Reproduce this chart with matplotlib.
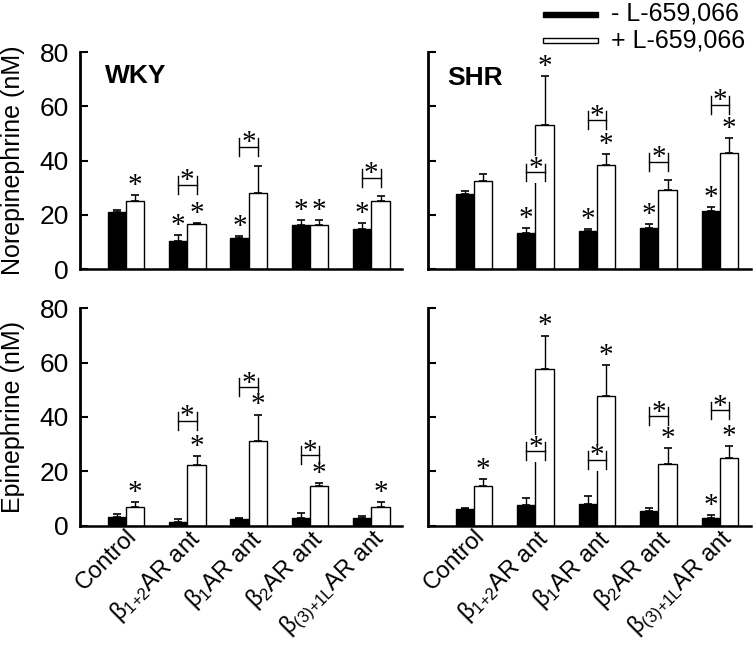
import matplotlib
matplotlib.use('Agg')
import matplotlib.pyplot as plt
from matplotlib.patches import Rectangle
import numpy as np

plt.rcParams['font.family'] = ['Liberation Sans', 'DejaVu Sans']
plt.rcParams['mathtext.fontset'] = 'custom'
plt.rcParams['mathtext.rm'] = 'Liberation Sans'
plt.rcParams['mathtext.it'] = 'Liberation Sans:italic'
plt.rcParams['mathtext.bf'] = 'Liberation Sans:bold'

# ── data ──────────────────────────────────────────────────────────────────
GROUPS = ['Control',
          r'$\mathrm{\beta_{1{+}2}}$AR ant',
          r'$\mathrm{\beta_{1}}$AR ant',
          r'$\mathrm{\beta_{2}}$AR ant',
          r'$\mathrm{\beta_{(3){+}1L}}$AR ant']

# Norepinephrine, WKY
ne_wky_minus = [21.0, 10.3, 11.6, 16.2, 14.9]
ne_wky_minus_err = [0.8, 2.2, 0.6, 1.9, 2.0]
ne_wky_plus = [25.2, 16.6, 28.2, 16.2, 25.1]
ne_wky_plus_err = [2.2, 0.5, 9.9, 1.9, 1.9]
ne_wky_minus_star = [False, True, True, True, True]
ne_wky_plus_star = [True, True, False, True, False]
ne_wky_bracket = [None, 31.0, 45.1, None, 33.7]

# Norepinephrine, SHR
ne_shr_minus = [27.7, 13.2, 13.9, 15.1, 21.3]
ne_shr_minus_err = [1.2, 1.8, 0.9, 1.4, 1.4]
ne_shr_plus = [32.6, 53.1, 38.5, 29.1, 42.8]
ne_shr_plus_err = [2.3, 18.0, 3.9, 3.7, 5.5]
ne_shr_minus_star = [False, True, True, True, True]
ne_shr_plus_star = [False, True, True, False, True]
ne_shr_bracket = [None, 35.6, 54.8, 39.6, 60.5]

# Epinephrine, WKY
ep_wky_minus = [3.2, 1.4, 2.3, 2.9, 2.6]
ep_wky_minus_err = [1.0, 1.1, 0.4, 1.6, 1.0]
ep_wky_plus = [6.9, 22.3, 31.0, 14.6, 6.9]
ep_wky_plus_err = [1.6, 3.4, 9.9, 1.2, 1.6]
ep_wky_minus_star = [False, False, False, False, False]
ep_wky_plus_star = [True, True, True, True, True]
ep_wky_bracket = [None, 38.6, 51.0, 25.9, None]

# Epinephrine, SHR
ep_shr_minus = [6.0, 7.4, 7.9, 5.3, 2.8]
ep_shr_minus_err = [0.6, 2.9, 3.1, 1.1, 1.0]
ep_shr_plus = [14.6, 57.8, 47.9, 22.6, 24.8]
ep_shr_plus_err = [2.4, 12.2, 11.1, 5.9, 4.6]
ep_shr_minus_star = [False, False, False, False, True]
ep_shr_plus_star = [True, True, True, True, True]
ep_shr_bracket = [None, 27.4, 24.2, 40.3, 42.4]

W = 0.30
STAR_FONT = ['Liberation Serif', 'DejaVu Serif']
FS = 19


def star(ax, x, y, dy=1.5):
    ax.annotate('*', (x, y), xytext=(0, dy), textcoords='offset points',
                ha='center', va='baseline', fontsize=21, family=STAR_FONT,
                zorder=7)


def panel(ax, minus, minus_err, plus, plus_err, mstar, pstar, brackets):
    x = np.arange(len(minus))
    ax.bar(x - W / 2, minus, W, color='black', edgecolor='black',
           linewidth=1.0, zorder=2)
    ax.bar(x + W / 2, plus, W, color='white', edgecolor='black',
           linewidth=1.0, zorder=2)
    ax.errorbar(x - W / 2, minus, yerr=[np.zeros(len(x)), minus_err],
                fmt='none', ecolor='black', elinewidth=1.0, capsize=3,
                capthick=1.2, zorder=3)
    ax.errorbar(x + W / 2, plus, yerr=[np.zeros(len(x)), plus_err],
                fmt='none', ecolor='black', elinewidth=1.0, capsize=3,
                capthick=1.2, zorder=3)
    for i in range(len(x)):
        if mstar[i]:
            star(ax, x[i] - W / 2, minus[i] + minus_err[i])
        if pstar[i]:
            star(ax, x[i] + W / 2, plus[i] + plus_err[i])
        b = brackets[i]
        if b is not None:
            x0, x1 = x[i] - W / 2, x[i] + W / 2
            ax.add_patch(Rectangle((x0 - 0.02, b - 4), x1 - x0 + 0.04, 10,
                                   facecolor='white', edgecolor='none',
                                   zorder=4))
            ax.plot([x0, x1], [b, b], color='black', lw=1.0, zorder=5)
            ax.plot([x0, x0], [b - 3.3, b + 3.3], color='black', lw=1.0, zorder=5)
            ax.plot([x1, x1], [b - 3.3, b + 3.3], color='black', lw=1.0, zorder=5)
            star(ax, (x0 + x1) / 2, b, dy=-2.5)

    ax.set_xlim(-0.75, 4.5)
    ax.set_ylim(0, 80)
    ax.set_yticks([0, 20, 40, 60, 80])
    ax.spines['top'].set_visible(False)
    ax.spines['right'].set_visible(False)
    ax.spines['left'].set_linewidth(2.0)
    ax.spines['bottom'].set_linewidth(1.8)
    ax.tick_params(axis='y', direction='in', length=6, width=1.5,
                   labelsize=FS, pad=8)
    ax.tick_params(axis='x', length=0, labelsize=17, pad=0)
    ax.set_xticks(x)


fig = plt.figure(figsize=(7.56, 6.5), dpi=100)
fig.patch.set_facecolor('white')

ax1 = fig.add_axes([0.1058, 0.586, 0.426, 0.334])
ax2 = fig.add_axes([0.566, 0.586, 0.427, 0.334])
ax3 = fig.add_axes([0.1058, 0.1915, 0.426, 0.334])
ax4 = fig.add_axes([0.566, 0.1915, 0.427, 0.334])

panel(ax1, ne_wky_minus, ne_wky_minus_err, ne_wky_plus, ne_wky_plus_err,
      ne_wky_minus_star, ne_wky_plus_star, ne_wky_bracket)
panel(ax2, ne_shr_minus, ne_shr_minus_err, ne_shr_plus, ne_shr_plus_err,
      ne_shr_minus_star, ne_shr_plus_star, ne_shr_bracket)
panel(ax3, ep_wky_minus, ep_wky_minus_err, ep_wky_plus, ep_wky_plus_err,
      ep_wky_minus_star, ep_wky_plus_star, ep_wky_bracket)
panel(ax4, ep_shr_minus, ep_shr_minus_err, ep_shr_plus, ep_shr_plus_err,
      ep_shr_minus_star, ep_shr_plus_star, ep_shr_bracket)

for ax in (ax1, ax2):
    ax.set_xticklabels([])
for ax in (ax2, ax4):
    ax.set_yticklabels([])
for ax in (ax3, ax4):
    ax.set_xticklabels(GROUPS, rotation=45, ha='right', va='top',
                       rotation_mode='anchor')

ax1.set_ylabel('Norepinephrine (nM)', fontsize=18)
ax3.set_ylabel('Epinephrine (nM)', fontsize=18)
ax1.yaxis.set_label_coords(-0.17, 0.5)
ax3.yaxis.set_label_coords(-0.17, 0.5)

ax1.text(-0.34, 71.2, 'WKY', fontsize=19, fontweight='bold',
         ha='left', va='center')
ax2.text(-0.43, 70.5, 'SHR', fontsize=19, fontweight='bold',
         ha='left', va='center')

# legend
fig.add_artist(Rectangle((543 / 756, 1 - 16.7 / 650), 55 / 756, 5 / 650,
                         transform=fig.transFigure, facecolor='black',
                         edgecolor='black', lw=1.0))
fig.add_artist(Rectangle((543 / 756, 1 - 43.3 / 650), 55 / 756, 5.6 / 650,
                         transform=fig.transFigure, facecolor='white',
                         edgecolor='black', lw=1.0))
fig.text(611 / 756, 1 - 14 / 650, '- L-659,066', fontsize=18,
         ha='left', va='center')
fig.text(611 / 756, 1 - 40.5 / 650, '+ L-659,066', fontsize=18,
         ha='left', va='center')

fig.savefig('out.png', dpi=100, facecolor='white')
